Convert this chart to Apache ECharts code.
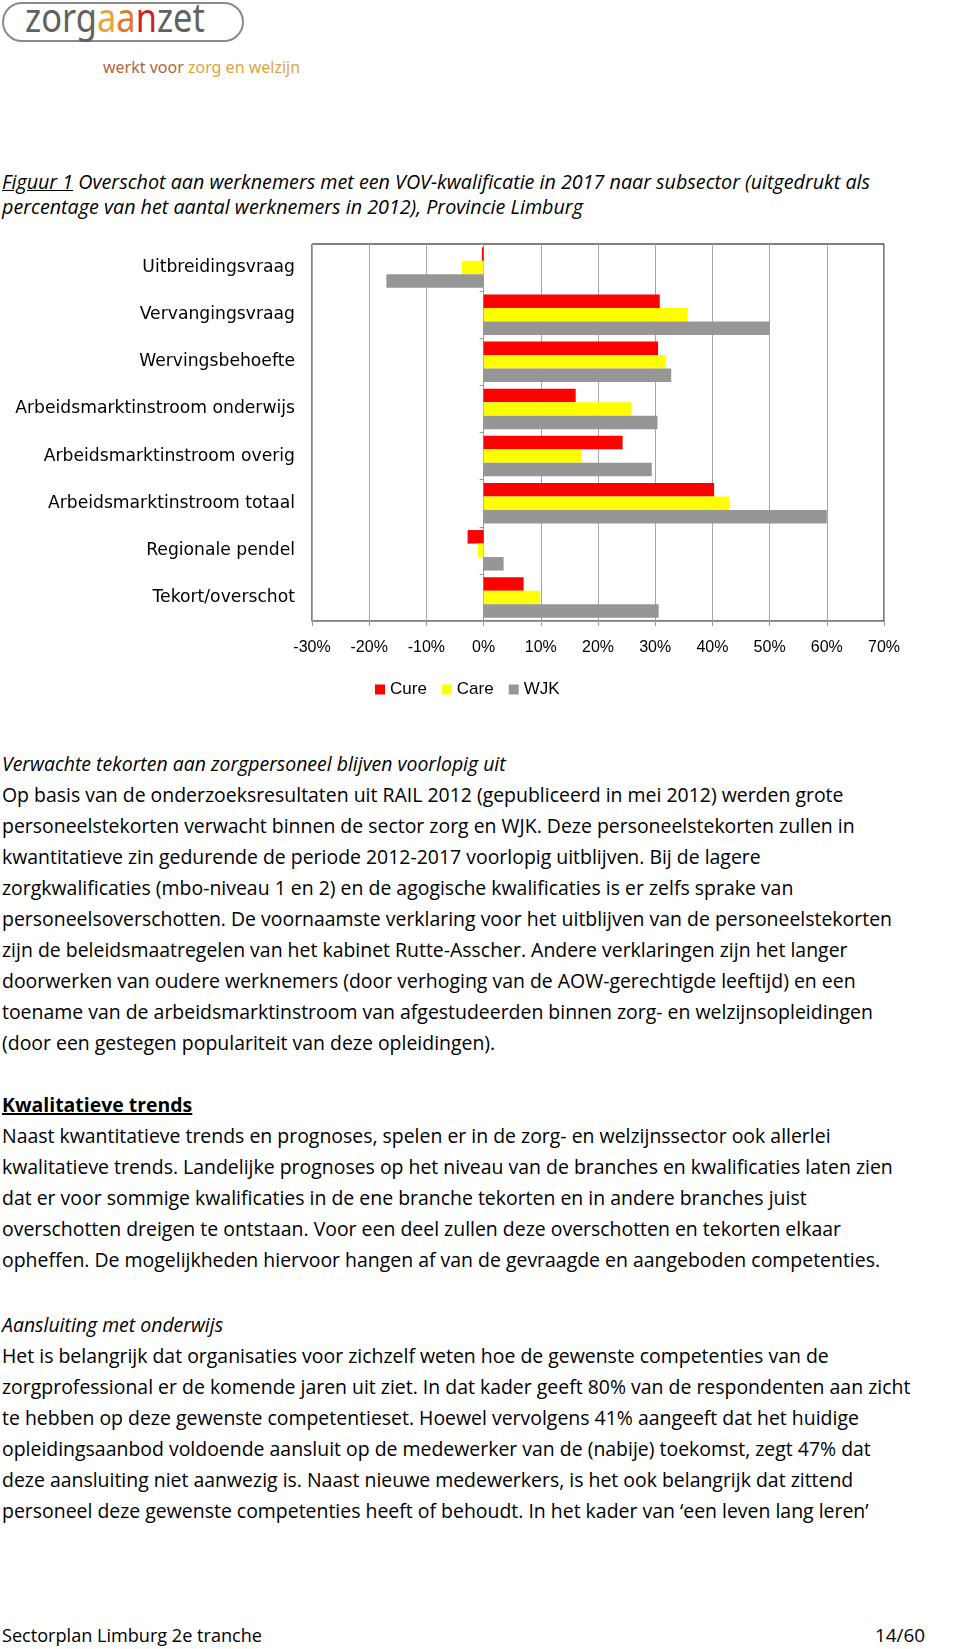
<!DOCTYPE html>
<html>
<head>
<meta charset="utf-8">
<script src="https://cdn.jsdelivr.net/npm/echarts@6/dist/echarts.min.js"></script>
<style>
  html, body { margin: 0; padding: 0; background: #fff; }
  body { width: 960px; height: 1649px; position: relative; overflow: hidden; color: #000; }
  .abs { position: absolute; }
  .ln { display: block; white-space: nowrap; transform-origin: 0 50%; }
  .body { font-family: "Open Sans", sans-serif; font-size: 20px; line-height: 31px; left: 2px; }
  .cap { font-family: "Open Sans", sans-serif; font-size: 19.5px; line-height: 25px; left: 2px; font-style: italic; }
  #logo { left: 2px; top: 2px; width: 238px; height: 36px; border: 2px solid #8a8a8a; border-radius: 20px; }
  #logotext { left: 25px; top: -3px; font-family: "Noto Sans", sans-serif; font-size: 40px; line-height: 40px; color: #616161; white-space: nowrap; transform-origin: 0 50%; transform: scaleX(0.86); }
  #tag { left: 103px; top: 56px; font-family: "Noto Sans", sans-serif; font-size: 16px; }
  #chart { left: 0; top: 220px; width: 960px; height: 500px; }
  .foot { font-family: "Open Sans", sans-serif; font-size: 18px; line-height: 24px; top: 1623px; }
</style>
</head>
<body>
<div id="logo" class="abs"></div>
<div id="logotext" class="abs">zorg<span style="color:#e9a33c">a</span><span style="color:#e2782a">a</span><span style="color:#cf1f2b">n</span>zet</div>
<div id="tag" class="abs"><span style="color:#b0663c">werkt voor </span><span style="color:#e2a244">zorg en welzijn</span></div>

<div class="abs cap" style="top:169px">
  <span class="ln capln" id="capRef"><u>Figuur 1</u> Overschot aan werknemers met een VOV-kwalificatie in 2017 naar subsector (uitgedrukt als</span>
  <span class="ln capln">percentage van het aantal werknemers in 2012), Provincie Limburg</span>
</div>

<div id="chart" class="abs"></div>

<div class="abs body" style="top:748px">
  <span class="ln bln"><i>Verwachte tekorten aan zorgpersoneel blijven voorlopig uit</i></span>
  <span class="ln bln" id="bodyRef">Op basis van de onderzoeksresultaten uit RAIL 2012 (gepubliceerd in mei 2012) werden grote</span>
  <span class="ln bln">personeelstekorten verwacht binnen de sector zorg en WJK. Deze personeelstekorten zullen in</span>
  <span class="ln bln">kwantitatieve zin gedurende de periode 2012-2017 voorlopig uitblijven. Bij de lagere</span>
  <span class="ln bln">zorgkwalificaties (mbo-niveau 1 en 2) en de agogische kwalificaties is er zelfs sprake van</span>
  <span class="ln bln">personeelsoverschotten. De voornaamste verklaring voor het uitblijven van de personeelstekorten</span>
  <span class="ln bln">zijn de beleidsmaatregelen van het kabinet Rutte-Asscher. Andere verklaringen zijn het langer</span>
  <span class="ln bln">doorwerken van oudere werknemers (door verhoging van de AOW-gerechtigde leeftijd) en een</span>
  <span class="ln bln">toename van de arbeidsmarktinstroom van afgestudeerden binnen zorg- en welzijnsopleidingen</span>
  <span class="ln bln">(door een gestegen populariteit van deze opleidingen).</span>
</div>

<div class="abs body" style="top:1089px">
  <span class="ln bln"><b><u>Kwalitatieve trends</u></b></span>
  <span class="ln bln">Naast kwantitatieve trends en prognoses, spelen er in de zorg- en welzijnssector ook allerlei</span>
  <span class="ln bln">kwalitatieve trends. Landelijke prognoses op het niveau van de branches en kwalificaties laten zien</span>
  <span class="ln bln">dat er voor sommige kwalificaties in de ene branche tekorten en in andere branches juist</span>
  <span class="ln bln">overschotten dreigen te ontstaan. Voor een deel zullen deze overschotten en tekorten elkaar</span>
  <span class="ln bln">opheffen. De mogelijkheden hiervoor hangen af van de gevraagde en aangeboden competenties.</span>
</div>

<div class="abs body" style="top:1309px">
  <span class="ln bln"><i>Aansluiting met onderwijs</i></span>
  <span class="ln bln">Het is belangrijk dat organisaties voor zichzelf weten hoe de gewenste competenties van de</span>
  <span class="ln bln">zorgprofessional er de komende jaren uit ziet. In dat kader geeft 80% van de respondenten aan zicht</span>
  <span class="ln bln">te hebben op deze gewenste competentieset. Hoewel vervolgens 41% aangeeft dat het huidige</span>
  <span class="ln bln">opleidingsaanbod voldoende aansluit op de medewerker van de (nabije) toekomst, zegt 47% dat</span>
  <span class="ln bln">deze aansluiting niet aanwezig is. Naast nieuwe medewerkers, is het ook belangrijk dat zittend</span>
  <span class="ln bln">personeel deze gewenste competenties heeft of behoudt. In het kader van ‘een leven lang leren’</span>
</div>

<div class="abs foot" style="left:2px"><span class="ln" id="footL">Sectorplan Limburg 2e tranche</span></div>
<div class="abs foot" style="left:875px"><span class="ln" id="footR">14/60</span></div>

<script>
// ---- data ----
var categories = ['Uitbreidingsvraag', 'Vervangingsvraag', 'Wervingsbehoefte',
  'Arbeidsmarktinstroom onderwijs', 'Arbeidsmarktinstroom overig', 'Arbeidsmarktinstroom totaal',
  'Regionale pendel', 'Tekort/overschot'];
var seriesNames = ['Cure', 'Care', 'WJK'];
var cure = [-0.3, 30.8, 30.5, 16.1, 24.3, 40.3, -2.8, 7.0];
var care = [-3.8, 35.7, 31.9, 25.8, 17.1, 42.9, -1.0, 9.9];
var wjk  = [-17.0, 50.0, 32.8, 30.4, 29.4, 60.0, 3.5, 30.6];
var xMin = -30, xMax = 70, xStep = 10;

// ---- text width fitting (Calibri substitute) ----
function fit(selector, refId, target) {
  var ref = document.getElementById(refId);
  var w = ref.getBoundingClientRect().width;
  var s = target / w;
  document.querySelectorAll(selector).forEach(function (el) { el.style.transform = 'scaleX(' + s + ')'; });
}
fit('.bln', 'bodyRef', 890);
fit('.capln', 'capRef', 868);
fit('#footL', 'footL', 260);
fit('#footR', 'footR', 50);

// ---- chart ----
var colors = ['#ff0000', '#ffff00', '#969696'];
var dataSets = [cure, care, wjk];
var chart = echarts.init(document.getElementById('chart'), null, { renderer: 'canvas' });
chart.setOption({
  animation: false,
  grid: { left: 312, right: 76, top: 24, bottom: 99, show: true, borderColor: '#000', borderWidth: 1 },
  legend: {
    data: seriesNames, left: 370, top: 456, icon: 'rect', itemWidth: 10, itemHeight: 10, itemGap: 15,
    textStyle: { fontFamily: 'Liberation Sans', fontSize: 17, color: '#000' }
  },
  xAxis: {
    type: 'value', min: xMin, max: xMax, interval: xStep,
    axisLine: { show: true, onZero: false, lineStyle: { color: '#999' } },
    axisTick: { show: true, length: 5, lineStyle: { color: '#999' } },
    splitLine: { show: true, lineStyle: { color: '#a6a6a6', width: 1 } },
    axisLabel: { formatter: '{value}%', fontFamily: 'Liberation Sans', fontSize: 16, color: '#000', margin: 19 }
  },
  yAxis: [{
    type: 'category', data: categories, inverse: true,
    axisLine: { show: false, onZero: false }, axisTick: { show: false },
    axisLabel: { fontFamily: 'DejaVu Sans', fontSize: 17.2, color: '#000', margin: 17 }
  }, {
    type: 'category', data: categories, inverse: true, position: 'left',
    axisLine: { show: true, onZero: true, lineStyle: { color: '#999' } },
    axisTick: { show: true, length: 4, lineStyle: { color: '#999' } },
    axisLabel: { show: false }, splitLine: { show: false }
  }],
  series: seriesNames.map(function (n, i) {
    return {
      name: n, type: 'bar', data: dataSets[i], yAxisIndex: 0,
      itemStyle: { color: colors[i] }, barGap: '0%', barCategoryGap: '14%'
    };
  })
});
</script>
</body>
</html>
